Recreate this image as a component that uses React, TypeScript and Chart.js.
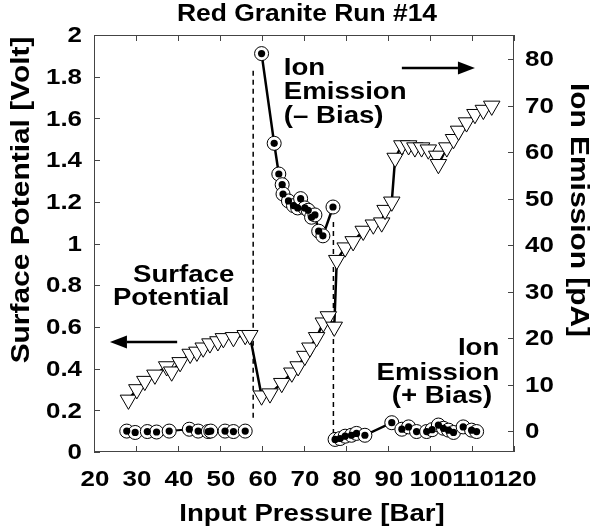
import { useEffect, useRef } from 'react';
import { Chart, registerables } from 'chart.js';

Chart.register(...registerables);

// ---------- data ----------
const titleText = 'Red Granite Run #14';
const xTitle = 'Input Pressure [Bar]';
const yLeftTitle = 'Surface Potential [Volt]';
const yRightTitle = 'Ion Emission [pA]';

// Surface potential (left axis, Volt)
const surfX = [28.2, 30.2, 32.1, 34.5, 37.3, 38.5, 40.5, 42.9, 44.5, 46.0, 47.6, 49.5, 50.8, 53.2, 56.0, 57.1,
  59.9, 61.9, 64.7, 67.1, 68.6, 70.2, 71.4, 73.0, 74.6, 75.8, 77.2, 77.8,
  79.8, 81.7, 84.1, 86.5, 88.5, 89.3, 90.9, 91.7, 93.3, 94.9, 96.4, 98.0, 99.6, 101.6, 102.0,
  104.0, 105.6, 106.8, 108.7, 110.7, 112.7, 114.7];
const surfY = [0.25, 0.30, 0.34, 0.37, 0.41, 0.385, 0.43, 0.47, 0.48, 0.50, 0.52, 0.53, 0.545, 0.55, 0.56, 0.56,
  0.27, 0.28, 0.33, 0.38, 0.41, 0.46, 0.50, 0.55, 0.62, 0.65, 0.60, 0.92,
  0.98, 1.01, 1.06, 1.09, 1.10, 1.16, 1.20, 1.41, 1.47, 1.47, 1.46, 1.46, 1.45, 1.42, 1.38,
  1.46, 1.50, 1.54, 1.58, 1.62, 1.64, 1.66];

// Ion emission before first jump (right axis, pA)
const ionLowX = [27.8, 29.8, 32.7, 34.9, 37.9, 42.7, 44.8, 47.2, 47.8, 51.2, 53.2, 56.0];
const ionLowY = [0.0, -0.3, -0.1, -0.2, 0.0, 0.4, 0.0, -0.1, 0.0, 0.0, -0.1, 0.0];

// Ion emission, negative bias
const ionNegX = [59.9, 62.9, 64.0, 64.8, 65.0, 66.3, 67.5, 68.5, 69.2, 70.2, 71.0, 71.8, 72.6, 73.5, 74.5, 76.9];
const ionNegY = [81.2, 61.9, 55.3, 53.0, 51.0, 49.5, 48.5, 48.0, 50.0, 48.0, 47.5, 46.0, 46.5, 43.0, 42.0, 48.2];

// Ion emission, positive bias
const ionPosX = [77.4, 78.6, 79.8, 81.3, 82.5, 84.5, 90.9, 93.3, 94.9, 96.8, 99.2, 100.5, 102.0, 103.2, 104.4, 105.6, 107.9, 109.9, 111.1];
const ionPosY = [-1.8, -1.6, -1.1, -0.9, -0.5, -0.9, 1.8, 0.4, 0.9, -0.1, -0.1, 0.3, 1.3, 0.6, 0.2, -0.3, 0.9, 0.2, -0.1];

// dashed separators (x in Bar, y in pA)
const dash1X = [57.9, 57.9];
const dash1Y = [77.5, 2.0];
const dash2X = [77.0, 77.0];
const dash2Y = [45.0, -1.0];

const xMin = 20, xMax = 120, xStep = 10;
const yLMin = 0, yLMax = 2, yLStep = 0.2;
const yRMin = -4.5, yRMax = 85.2, yRStep = 10;

// ---------- helpers ----------
const FONT = '"Liberation Sans", Arial, Helvetica, sans-serif';
const SX = 1.15; // horizontal widening of the lettering
const pts = (xs: number[], ys: number[]) => xs.map((x, i) => ({ x, y: ys[i] }));

function txt(ctx: CanvasRenderingContext2D, s: string, x: number, y: number, size: number,
  align: CanvasTextAlign = 'left', baseline: CanvasTextBaseline = 'alphabetic', rot = 0) {
  ctx.save();
  ctx.translate(x, y);
  if (rot) ctx.rotate(rot);
  ctx.scale(SX, 1);
  ctx.font = `bold ${size}px ${FONT}`;
  ctx.textAlign = align;
  ctx.textBaseline = baseline;
  ctx.fillStyle = '#000';
  ctx.fillText(s, 0, 0);
  ctx.restore();
}

function arrow(ctx: CanvasRenderingContext2D, x1: number, x2: number, y: number) {
  const dir = Math.sign(x2 - x1);
  const hl = 17, hw = 6.5;
  ctx.save();
  ctx.strokeStyle = '#000'; ctx.fillStyle = '#000'; ctx.lineWidth = 2.5;
  ctx.beginPath(); ctx.moveTo(x1, y); ctx.lineTo(x2 - dir * hl, y); ctx.stroke();
  ctx.beginPath(); ctx.moveTo(x2, y); ctx.lineTo(x2 - dir * hl, y - hw); ctx.lineTo(x2 - dir * hl, y + hw); ctx.closePath(); ctx.fill();
  ctx.restore();
}

const fmt = (v: number) => String(Math.round(v * 10) / 10);

const decor = {
  id: 'decor',
  beforeDatasetsDraw(chart: any) {
    const { ctx, chartArea: a, scales } = chart;
    const { x, yL, yR } = scales;
    ctx.save();
    ctx.strokeStyle = '#444';
    ctx.lineWidth = 1;
    ctx.strokeRect(a.left + 0.5, a.top + 0.5, a.right - a.left - 1, a.bottom - a.top - 1);
    const tl = 6;
    ctx.beginPath();
    x.ticks.forEach((t: any) => {
      const p = Math.round(x.getPixelForValue(t.value)) + 0.5;
      ctx.moveTo(p, a.bottom); ctx.lineTo(p, a.bottom - tl);
      ctx.moveTo(p, a.top); ctx.lineTo(p, a.top + tl);
    });
    yL.ticks.forEach((t: any) => {
      const p = Math.round(yL.getPixelForValue(t.value)) + 0.5;
      ctx.moveTo(a.left, p); ctx.lineTo(a.left + tl, p);
    });
    yR.ticks.forEach((t: any) => {
      const p = Math.round(yR.getPixelForValue(t.value)) + 0.5;
      ctx.moveTo(a.right, p); ctx.lineTo(a.right - tl, p);
    });
    ctx.stroke();
    ctx.restore();

    // tick labels, from the scales' own ticks
    const ts = 22.5;
    x.ticks.forEach((t: any) => txt(ctx, fmt(t.value), x.getPixelForValue(t.value) + 1, a.bottom + 34, ts, 'center'));
    yL.ticks.forEach((t: any) => txt(ctx, fmt(t.value), a.left - 12, yL.getPixelForValue(t.value) + 1, ts, 'right', 'middle'));
    yR.ticks.forEach((t: any) => txt(ctx, fmt(t.value), a.right + 11, yR.getPixelForValue(t.value) + 1, ts, 'left', 'middle'));
  },
  afterDraw(chart: any) {
    const { ctx, chartArea: a, scales } = chart;
    const { x, yL } = scales;
    const X = (v: number) => x.getPixelForValue(v);
    const Y = (v: number) => yL.getPixelForValue(v);
    const cx = (a.left + a.right) / 2;
    // titles
    txt(ctx, titleText, cx + 3, 21, 23, 'center');
    txt(ctx, xTitle, cx + 8, 521, 24, 'center');
    txt(ctx, yLeftTitle, 29, 200, 26, 'center', 'alphabetic', -Math.PI / 2);
    txt(ctx, yRightTitle, 571, 210, 26, 'center', 'alphabetic', Math.PI / 2);

    // annotations
    const as = 24;
    txt(ctx, 'Surface', X(29.3), Y(0.815), as);
    txt(ctx, 'Potential', X(24.5), Y(0.705), as);
    arrow(ctx, X(39.8), X(23.8), Y(0.528));

    txt(ctx, 'Ion', X(65.2), Y(1.808), as);
    txt(ctx, 'Emission', X(65.2), Y(1.693), as);
    txt(ctx, '(\u2013 Bias)', X(65.2), Y(1.578), as);
    arrow(ctx, X(93.3), X(110.7), Y(1.842));

    txt(ctx, 'Ion', X(116.5), Y(0.465), as, 'right');
    txt(ctx, 'Emission', X(116.5), Y(0.345), as, 'right');
    txt(ctx, '(+ Bias)', X(114.8), Y(0.235), as, 'right');
  },
};

export default function App() {
  const ref = useRef<HTMLCanvasElement>(null);
  useEffect(() => {
    if (!ref.current) return;
    const openCircle = (data: any[], bw: number) => ({
      data, yAxisID: 'yR', showLine: true, borderColor: '#000', borderWidth: bw,
      pointStyle: 'circle', pointRadius: 7, pointBackgroundColor: '#fff',
      pointBorderColor: '#000', pointBorderWidth: 1,
    });
    const dots = (data: any[]) => ({
      data, yAxisID: 'yR', showLine: false,
      pointStyle: 'circle', pointRadius: 3.6, pointBackgroundColor: '#000',
      pointBorderColor: '#000', pointBorderWidth: 0,
    });
    const low = pts(ionLowX, ionLowY);
    const neg = pts(ionNegX, ionNegY);
    const pos = pts(ionPosX, ionPosY);
    const chart = new Chart(ref.current, {
      type: 'scatter',
      data: {
        datasets: [
          { label: 'dots low', ...dots(low) },
          { label: 'dots neg', ...dots(neg) },
          { label: 'dots pos', ...dots(pos) },
          {
            label: 'Surface Potential',
            data: pts(surfX, surfY),
            yAxisID: 'yL',
            showLine: true,
            borderColor: '#000',
            borderWidth: 2.5,
            pointStyle: 'triangle',
            rotation: 180,
            pointRadius: 9.5,
            pointBackgroundColor: '#fff',
            pointBorderColor: '#000',
            pointBorderWidth: 1,
          },
          { label: 'Ion low', ...openCircle(low, 2) },
          { label: 'Ion (- Bias)', ...openCircle(neg, 2.5) },
          { label: 'Ion (+ Bias)', ...openCircle(pos, 2.5) },
          {
            label: 'sep1',
            data: pts(dash1X, dash1Y),
            yAxisID: 'yR',
            showLine: true,
            borderColor: '#000',
            borderWidth: 1.5,
            borderDash: [5, 4],
            pointRadius: 0,
          },
          {
            label: 'sep2',
            data: pts(dash2X, dash2Y),
            yAxisID: 'yR',
            showLine: true,
            borderColor: '#000',
            borderWidth: 1.5,
            borderDash: [5, 4],
            pointRadius: 0,
          },
        ],
      },
      options: {
        responsive: false,
        animation: false,
        devicePixelRatio: 1,
        layout: { padding: { top: 35, left: 0, right: 0, bottom: 0 } },
        plugins: { legend: { display: false }, tooltip: { enabled: false }, title: { display: false } },
        scales: {
          x: {
            type: 'linear', position: 'bottom', min: xMin, max: xMax,
            ticks: { stepSize: xStep, display: false },
            grid: { display: false, drawTicks: false },
            border: { display: false },
            afterFit: (s: any) => { s.height = 78; },
          },
          yL: {
            type: 'linear', position: 'left', min: yLMin, max: yLMax,
            ticks: { stepSize: yLStep, display: false },
            grid: { display: false, drawTicks: false },
            border: { display: false },
            afterFit: (s: any) => { s.width = 94; },
          },
          yR: {
            type: 'linear', position: 'right', min: yRMin, max: yRMax,
            ticks: { stepSize: yRStep, includeBounds: false, display: false },
            grid: { display: false, drawTicks: false },
            border: { display: false },
            afterFit: (s: any) => { s.width = 78; },
          },
        },
      } as any,
      plugins: [decor],
    });
    return () => chart.destroy();
  }, []);
  return (
    <div style={{ position: 'fixed', left: 0, top: 0, width: 592, height: 530, background: '#fff' }}>
      <canvas ref={ref} width={592} height={530} style={{ display: 'block', width: 592, height: 530 }} />
    </div>
  );
}
